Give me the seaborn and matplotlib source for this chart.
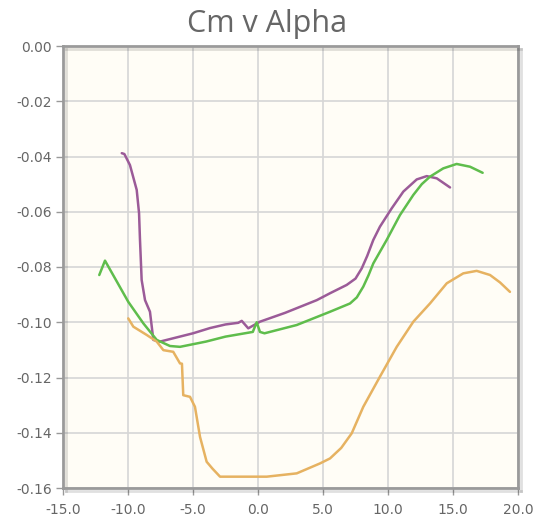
import matplotlib
matplotlib.use("Agg")
import matplotlib.pyplot as plt
import matplotlib.patheffects as pe
import seaborn as sns
import pandas as pd

# Pitching-moment coefficient vs angle of attack for three airfoil runs
alpha_purple = [-10.48, -10.28, -9.85, -9.33, -9.15, -9.08, -8.95, -8.69, -8.31, -8.05, -7.54,
                -6.52, -5.0, -3.69, -2.5, -1.52, -1.25, -0.75, 0.15, 2.08, 4.52,
                5.54, 6.82, 7.5, 7.98, 8.4, 8.87, 9.38, 10.28, 11.18, 12.21,
                12.98, 13.75, 14.77]
cm_purple = [-0.0388, -0.0391, -0.0431, -0.0521, -0.0605, -0.0699, -0.0847, -0.0920, -0.0962, -0.1064, -0.1070,
             -0.1058, -0.1040, -0.1021, -0.1008, -0.1002, -0.0995, -0.1022, -0.0998, -0.0966, -0.0920,
             -0.0895, -0.0865, -0.0842, -0.0805, -0.0760, -0.0702, -0.0654, -0.0588, -0.0527, -0.0483,
             -0.0471, -0.0479, -0.0512]

alpha_green = [-12.21, -11.77, -11.0, -9.98, -8.82, -7.79, -6.77, -6.0, -4.0, -2.5,
               -0.4, -0.1, 0.15, 0.5, 2.98, 5.54, 7.08, 7.6, 8.1, 8.5,
               8.87, 9.9, 10.92, 11.95, 12.6, 13.23, 14.25, 15.28, 16.31, 17.28]
cm_green = [-0.0829, -0.0777, -0.0841, -0.0926, -0.1004, -0.1064, -0.1086, -0.1089, -0.1070, -0.1052,
            -0.1035, -0.1000, -0.1035, -0.1040, -0.1010, -0.0962, -0.0932, -0.0910, -0.0871, -0.0830,
            -0.0787, -0.0702, -0.0612, -0.0539, -0.0500, -0.0473, -0.0443, -0.0427, -0.0437, -0.0459]

alpha_orange = [-9.98, -9.59, -8.56, -7.79, -7.28, -6.52, -6.0, -5.85, -5.75, -5.23,
                -4.85, -4.46, -3.95, -3.5, -2.92, -1.0, 0.67, 2.98, 4.77, 5.54,
                6.4, 7.21, 8.1, 9.38, 10.67, 11.95, 13.23, 14.52, 15.79, 16.82,
                17.85, 18.62, 19.38]
cm_orange = [-0.0986, -0.1016, -0.1046, -0.1070, -0.1101, -0.1107, -0.1149, -0.1150, -0.1264, -0.1270,
             -0.1306, -0.1415, -0.1505, -0.1530, -0.1559, -0.1559, -0.1559, -0.1547, -0.1511, -0.1493,
             -0.1455, -0.1402, -0.1306, -0.1197, -0.1089, -0.0998, -0.0932, -0.0859, -0.0823, -0.0814,
             -0.0829, -0.0856, -0.0890]

series_names = ["run A", "run B", "run C"]
series_colors = ["#9b5b98", "#5fbd4c", "#e6b261"]

x_ticks = [-15.0, -10.0, -5.0, 0.0, 5.0, 10.0, 15.0, 20.0]
x_tick_labels = ["-15.0", "-10.0", "-5.0", "0.0", "5.0", "10.0", "15.0", "20.0"]
y_ticks = [0.00, -0.02, -0.04, -0.06, -0.08, -0.10, -0.12, -0.14, -0.16]
y_tick_labels = ["0.00", "-0.02", "-0.04", "-0.06", "-0.08", "-0.10", "-0.12", "-0.14", "-0.16"]

frames = []
for name, xs, ys in zip(series_names,
                        [alpha_purple, alpha_green, alpha_orange],
                        [cm_purple, cm_green, cm_orange]):
    frames.append(pd.DataFrame({"alpha": xs, "cm": ys, "series": name}))
df = pd.concat(frames, ignore_index=True)

sns.set_theme(style="white")
plt.rcParams["font.family"] = ["DejaVu Sans"]
plt.rcParams["axes.unicode_minus"] = False

W, H = 534, 522
fig = plt.figure(figsize=(W / 100, H / 100), dpi=100)
fig.patch.set_facecolor("white")
left, right, top, bottom = 63, 518, 46, 488
ax = fig.add_axes([left / W, 1 - bottom / H, (right - left) / W, (bottom - top) / H])
ax.set_facecolor("#fffdf6")

sns.lineplot(data=df, x="alpha", y="cm", hue="series", palette=series_colors,
             hue_order=series_names, sort=False, estimator=None, linewidth=1.8,
             legend=False, ax=ax, zorder=3)

ax.set_xlim(x_ticks[0], x_ticks[-1])
ax.set_ylim(y_ticks[-1], y_ticks[0])
ax.set_xticks(x_ticks)
ax.set_xticklabels(x_tick_labels)
ax.set_yticks(y_ticks)
ax.set_yticklabels(y_tick_labels)
ax.set_xlabel("")
ax.set_ylabel("")

ax.grid(True, color="#d6d6d6", linewidth=1.2, zorder=0)
ax.tick_params(axis="both", which="major", direction="out", length=5, width=1,
               color="#999999", labelcolor="#666666", labelsize=10, pad=3)
ax.tick_params(axis="x", pad=6)
ax.tick_params(left=True, bottom=True)

for spine in ax.spines.values():
    spine.set_visible(True)
    spine.set_color("#9a9a9a")
    spine.set_linewidth(2)
    spine.set_path_effects([pe.SimpleLineShadow(offset=(2.5, -2.5), shadow_color="#000000", alpha=0.12),
                            pe.Normal()])

fig.text(0.5, 1 - 24 / H, "Cm v Alpha", ha="center", va="center",
         fontsize=22, color="#666666", family=["Open Sans", "DejaVu Sans"])

fig.savefig("out.png", dpi=100, facecolor="white")
